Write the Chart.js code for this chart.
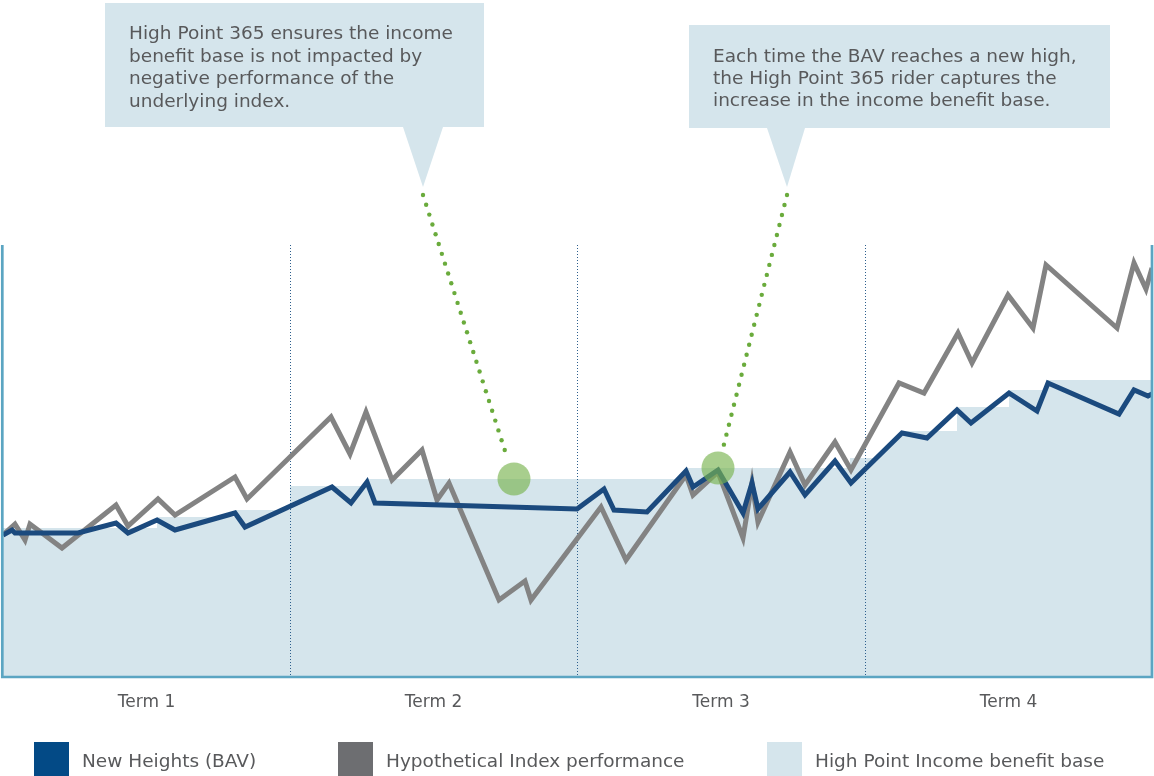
<!DOCTYPE html>
<html>
<head>
  <script src="https://cdn.jsdelivr.net/npm/chart.js"></script>
  <style>
    html, body { margin: 0; padding: 0; background: #fff; }
  </style>
</head>
<body>
  <canvas id="chart" width="1154" height="776"></canvas>

  <script>
    // x: position across the four terms, y: value above the base line
    const bavPoints = [
      [0,141],[9,146],[12,143],[75,143],[113,153],[125,143],[154,156],[172,146],[232,163],[242,149],
      [329,189],[348,173],[364,194],[372,173],[574,167],[601,187],[611,166],[644,164],[683,205],[690,189],
      [715,206],[740,163],[749,193],[755,167],[787,204],[802,181],[832,215],[848,193],[899,243],[924,238],
      [954,266],[968,253],[1006,283],[1034,265],[1045,293],[1116,262],[1131,286],[1145,280],[1149,282]
    ];
    const indexPoints = [
      [0,141],[12,152],[22,136],[27,152],[59,128],[113,171],[125,150],[155,177],[172,161],[232,199],
      [244,177],[328,259],[347,222],[363,264],[389,196],[419,226],[434,176],[446,193],[496,76],[522,95],
      [528,76],[598,169],[623,116],[683,201],[690,181],[715,204],[740,138],[749,193],[755,154],[787,224],
      [802,191],[832,234],[848,206],[896,293],[921,283],[955,343],[969,313],[1005,381],[1030,348],[1043,411],
      [1114,348],[1131,413],[1143,387],[1149,408]
    ];
    const basePoints = [
      [0,148],[154,148],[154,159],[232,159],[232,166],[287,166],[287,190],[364,190],[364,197],[682,197],
      [682,208],[847,208],[847,218],[875,218],[899,245],[954,245],[954,269],[1006,269],[1006,286],[1045,286],
      [1045,296],[1149,296]
    ];
    const highlightPoints = [[511,197],[715,208]];

    const termLabels = ['Term 1', 'Term 2', 'Term 3', 'Term 4'];
    const termEdges = [0, 287, 574, 862, 1149];

    const seriesLabels = ['New Heights (BAV)', 'Hypothetical Index performance', 'High Point Income benefit base'];
    const seriesColors = ['#1b4a7e', '#838383', '#d5e5ec'];
    const swatchColors = ['#034a86', '#6d6e71', '#d5e5ec'];

    const callouts = [
      { box: [105, 3, 484, 127], tip: [403, 443, 423, 187], textX: 129, baselines: [39, 62, 84, 107],
        lines: ['High Point 365 ensures the income', 'benefit base is not impacted by', 'negative performance of the', 'underlying index.'] },
      { box: [689, 25, 1110, 128], tip: [767, 805, 787, 187], textX: 713, baselines: [62, 84, 106],
        lines: ['Each time the BAV reaches a new high,', 'the High Point 365 rider captures the', 'increase in the income benefit base.'] }
    ];

    const toXY = pts => pts.map(p => ({ x: p[0], y: p[1] }));
    const FONT = '"DejaVu Sans", sans-serif';
    const TEXT = '#58595b';

    const decorations = {
      id: 'decorations',
      afterDatasetDraw(chart, args) {
        if (args.index !== 0) return;
        // dotted term separators, over the fill but under the lines
        const { ctx, chartArea, scales } = chart;
        ctx.save();
        ctx.strokeStyle = '#2d5f8d';
        ctx.lineWidth = 1;
        ctx.setLineDash([1, 2]);
        termEdges.slice(1, -1).forEach(v => {
          const x = Math.round(scales.x.getPixelForValue(v)) + 0.5;
          ctx.beginPath();
          ctx.moveTo(x, chartArea.top);
          ctx.lineTo(x, chartArea.bottom);
          ctx.stroke();
        });
        ctx.restore();
      },
      afterDraw(chart) {
        const { ctx, chartArea, scales } = chart;
        ctx.save();

        // frame: left, right and bottom
        ctx.strokeStyle = '#5ba5c2';
        ctx.lineWidth = 2.7;
        ctx.beginPath();
        ctx.moveTo(chartArea.left - 0.7, chartArea.top);
        ctx.lineTo(chartArea.left - 0.7, chartArea.bottom + 1);
        ctx.lineTo(chartArea.right + 1, chartArea.bottom + 1);
        ctx.lineTo(chartArea.right + 1, chartArea.top);
        ctx.stroke();

        // callout boxes
        callouts.forEach((c, i) => {
          ctx.fillStyle = '#d5e5ec';
          ctx.fillRect(c.box[0], c.box[1], c.box[2] - c.box[0], c.box[3] - c.box[1]);
          ctx.beginPath();
          ctx.moveTo(c.tip[0], c.box[3]);
          ctx.lineTo(c.tip[1], c.box[3]);
          ctx.lineTo(c.tip[2], c.tip[3]);
          ctx.closePath();
          ctx.fill();

          ctx.fillStyle = TEXT;
          ctx.font = '18.5px ' + FONT;
          ctx.textBaseline = 'alphabetic';
          ctx.textAlign = 'left';
          c.lines.forEach((t, j) => ctx.fillText(t, c.textX, c.baselines[j]));

          // green dotted connector from the tip down to the highlighted point
          const hp = highlightPoints[i];
          const px = scales.x.getPixelForValue(hp[0]);
          const py = scales.y.getPixelForValue(hp[1]);
          const sx = c.tip[2], sy = c.tip[3] + 8;
          const dx = px - sx, dy = py - sy;
          const len = Math.sqrt(dx * dx + dy * dy);
          ctx.fillStyle = '#6aab3c';
          for (let d = 0; d < len - 22; d += 10.3) {
            ctx.beginPath();
            ctx.arc(sx + dx * d / len, sy + dy * d / len, 2.2, 0, Math.PI * 2);
            ctx.fill();
          }
        });

        // term labels
        ctx.fillStyle = TEXT;
        ctx.font = '17px ' + FONT;
        ctx.textAlign = 'center';
        ctx.textBaseline = 'middle';
        termLabels.forEach((t, i) => {
          const x = scales.x.getPixelForValue((termEdges[i] + termEdges[i + 1]) / 2);
          ctx.fillText(t, x, 703);
        });

        // legend
        const legendX = [34, 338, 767];
        ctx.font = '18.5px ' + FONT;
        ctx.textAlign = 'left';
        seriesLabels.forEach((t, i) => {
          ctx.fillStyle = swatchColors[i];
          ctx.fillRect(legendX[i], 742, 35, 34);
          ctx.fillStyle = TEXT;
          ctx.fillText(t, legendX[i] + 48, 762);
        });

        ctx.restore();
      }
    };

    new Chart(document.getElementById('chart'), {
      type: 'line',
      data: {
        datasets: [
          {
            label: seriesLabels[2],
            data: toXY(basePoints),
            borderWidth: 0,
            backgroundColor: seriesColors[2],
            fill: 'origin',
            pointRadius: 0,
            order: 3
          },
          {
            label: seriesLabels[1],
            data: toXY(indexPoints),
            borderColor: seriesColors[1],
            borderWidth: 5,
            borderJoinStyle: 'miter',
            pointRadius: 0,
            fill: false,
            order: 2
          },
          {
            label: seriesLabels[0],
            data: toXY(bavPoints),
            borderColor: seriesColors[0],
            borderWidth: 5,
            borderJoinStyle: 'miter',
            pointRadius: 0,
            fill: false,
            order: 1
          },
          {
            label: 'highlight',
            data: toXY(highlightPoints),
            showLine: false,
            pointRadius: 16.5,
            pointBackgroundColor: 'rgba(122, 180, 80, 0.65)',
            pointBorderWidth: 0,
            order: 0
          }
        ]
      },
      options: {
        responsive: false,
        animation: false,
        layout: { autoPadding: false, padding: { left: 3, right: 3, top: 245, bottom: 100 } },
        elements: { line: { tension: 0 } },
        scales: {
          x: { type: 'linear', min: 0, max: 1148, display: false },
          y: { type: 'linear', min: 0, max: 431, display: false }
        },
        plugins: {
          legend: { display: false },
          tooltip: { enabled: false }
        }
      },
      plugins: [decorations]
    });
  </script>
</body>
</html>
